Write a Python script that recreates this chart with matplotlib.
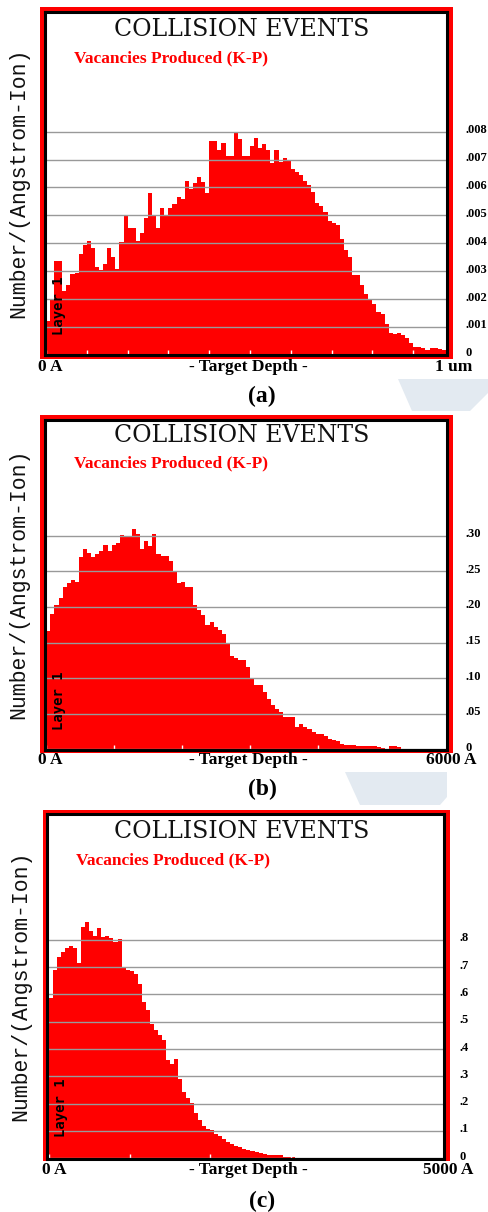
import numpy as np
import matplotlib
matplotlib.use("Agg")
import matplotlib.pyplot as plt
from matplotlib.patches import Rectangle, Polygon
from matplotlib.transforms import ScaledTranslation

W, H = 489, 1212

# vacancies produced per (Angstrom-Ion), 100 depth bins each (SRIM K-P)
VAC_A = np.array([
    1.21, 1.96, 3.37, 3.37, 2.30, 2.50, 2.90, 2.92, 3.60, 3.93,
    4.09, 3.84, 3.15, 3.03, 3.27, 3.84, 3.51, 3.09, 4.03, 4.97,
    4.55, 4.56, 4.09, 4.38, 4.92, 5.82, 5.03, 4.56, 5.28, 4.98,
    5.28, 5.40, 5.66, 5.60, 6.24, 5.93, 6.16, 6.38, 6.20, 5.80,
    7.67, 7.67, 7.34, 7.60, 7.13, 7.13, 7.95, 7.73, 7.13, 7.13,
    7.50, 7.79, 7.43, 7.57, 7.34, 6.89, 7.34, 6.92, 7.06, 6.98,
    6.68, 6.54, 6.44, 6.22, 6.10, 5.84, 5.45, 5.33, 5.13, 4.79,
    4.74, 4.64, 4.17, 3.75, 3.51, 2.88, 2.88, 2.50, 2.20, 1.96,
    1.84, 1.54, 1.48, 1.12, 0.79, 0.76, 0.80, 0.70, 0.59, 0.43,
    0.29, 0.29, 0.23, 0.19, 0.23, 0.23, 0.20, 0.17, 0.15, 0.12,
]) * 1e-3

VAC_B = [
    .166, .190, .202, .213, .228, .234, .238, .235, .270, .281,
    .276, .270, .274, .278, .287, .279, .287, .290, .301, .299,
    .299, .309, .302, .282, .292, .286, .303, .275, .271, .271,
    .264, .251, .234, .235, .228, .228, .203, .196, .189, .175,
    .179, .172, .168, .162, .149, .131, .128, .125, .125, .115,
    .100, .090, .090, .081, .071, .062, .057, .053, .045, .045,
    .045, .032, .035, .032, .028, .025, .021, .021, .018, .014,
    .013, .011, .008, .006, .006, .006, .005, .004, .004, .004,
    .004, .003, .002, .001, .004, .004, .003, .001, 0, 0,
    0, 0, 0, 0, 0, 0, 0, 0, 0, 0,
]

VAC_C = [
    .586, .690, .739, .757, .769, .778, .769, .714, .849, .867,
    .833, .815, .845, .812, .816, .808, .791, .803, .702, .690,
    .686, .674, .637, .571, .543, .491, .470, .452, .435, .360,
    .344, .364, .290, .244, .222, .201, .165, .140, .120, .108,
    .102, .090, .080, .070, .060, .052, .045, .040, .034, .030,
    .027, .022, .021, .015, .013, .013, .013, .013, .005, .004,
    .003, .002, .002, 0, 0, 0, 0, 0, 0, 0,
    0, 0, 0, 0, 0, 0, 0, 0, 0, 0,
    0, 0, 0, 0, 0, 0, 0, 0, 0, 0,
    0, 0, 0, 0, 0, 0, 0, 0, 0, 0,
]

DEPTHS = [10000, 6000, 5000]          # target depth, Angstrom
END_LABELS = ["1 um", "6000 A", "5000 A"]
CAPTIONS = ["(a)", "(b)", "(c)"]

YTICKS_A = [0, .001, .002, .003, .004, .005, .006, .007, .008]
YLABELS_A = ["0", ".001", ".002", ".003", ".004", ".005", ".006", ".007", ".008"]
YTICKS_B = [0, .05, .10, .15, .20, .25, .30]
YLABELS_B = ["0", ".05", ".10", ".15", ".20", ".25", ".30"]
YTICKS_C = [0, .1, .2, .3, .4, .5, .6, .7, .8]
YLABELS_C = ["0", ".1", ".2", ".3", ".4", ".5", ".6", ".7", ".8"]

RED = "#ff0000"
SERIF = "Liberation Serif"

# pixel layout of each SRIM window: frame, plot box, data origin and scales
LAYOUT = [
    dict(frame=(40, 7, 453, 359), box=(45, 12, 447, 355.5), x0=46, xs=408,
         y0=354.9, ys=27.9 / 0.001, title=30, sub=(74, 58), ylab=(19, 183),
         layer=(59, 335), xlab=367, left=38, right=472, cap=396, pad=13),
    dict(frame=(40, 415, 453, 753), box=(45, 420, 447, 750), x0=46.3, xs=408,
         y0=749.3, ys=35.6 / 0.05, title=435, sub=(74, 463), ylab=(19, 584),
         layer=(59, 730), xlab=760, left=38, right=477, cap=789, pad=13),
    dict(frame=(43, 810, 450, 1161), box=(47.5, 814, 444, 1158.5), x0=49, xs=403,
         y0=1158.3, ys=27.3 / 0.1, title=832, sub=(76, 860), ylab=(21, 986),
         layer=(61, 1137), xlab=1170, left=42, right=473, cap=1201, pad=11.5),
]


def fx(x):
    return x / W


def fy(y):
    return 1 - y / H


def draw_panel(fig, vals, depth, yticks, ylabels, end_label, caption, L):
    l, t, r, b = L["frame"]
    fig.add_artist(Rectangle((fx(l), fy(b)), (r - l) / W, (b - t) / H,
                             transform=fig.transFigure, facecolor=RED,
                             edgecolor="none", zorder=-1))
    l, t, r, b = L["box"]
    ax = fig.add_axes([fx(l), fy(b), (r - l) / W, (b - t) / H])
    ax.set_facecolor("white")
    ax.set_xlim((l - L["x0"]) / L["xs"] * depth, (r - L["x0"]) / L["xs"] * depth)
    ax.set_ylim((L["y0"] - b) / L["ys"], (L["y0"] - t) / L["ys"])

    edges = np.linspace(0, depth, len(vals) + 1)
    ax.stairs(vals, edges, fill=True, color=RED, linewidth=0)

    ax.set_xticks(np.arange(0, depth, 1000))
    ax.tick_params(axis="x", direction="in", color="white", length=3.5,
                   width=1, labelbottom=False)
    ax.yaxis.tick_right()
    ax.set_yticks(yticks)
    ax.set_yticklabels(ylabels, family=SERIF, weight="bold", fontsize=9)
    ax.tick_params(axis="y", length=0, pad=L["pad"])
    # SRIM prints the scale numbers a little above their grid lines
    lift = ScaledTranslation(0, 3 / 100, fig.dpi_scale_trans)
    for lab in ax.get_yticklabels():
        lab.set_transform(lab.get_transform() + lift)
    ax.grid(axis="y", color="#999999", linewidth=1.0)
    for s in ax.spines.values():
        s.set_color("black")
        s.set_linewidth(2.2)

    fig.text(fx(242), fy(L["title"]), "COLLISION EVENTS", ha="center",
             va="center", family="DejaVu Serif", fontsize=17, color="#111111")
    fig.text(fx(L["sub"][0]), fy(L["sub"][1]), "Vacancies Produced (K-P)",
             ha="left", va="center", family=SERIF, weight="bold",
             fontsize=12.5, color=RED)
    fig.text(fx(L["ylab"][0]), fy(L["ylab"][1]), "Number/(Angstrom-Ion)",
             rotation=90, ha="center", va="center", family="Liberation Mono",
             fontsize=15.5, color="#111111")
    fig.text(fx(L["layer"][0]), fy(L["layer"][1]), "Layer 1", rotation=90,
             ha="center", va="bottom", family="DejaVu Sans Mono",
             weight="bold", fontsize=10)
    fig.text(fx(L["left"]), fy(L["xlab"]), "0 A", ha="left", va="center",
             family=SERIF, weight="bold", fontsize=12.5)
    fig.text(fx(248), fy(L["xlab"]), "- Target Depth -", ha="center",
             va="center", family=SERIF, weight="bold", fontsize=12.5)
    fig.text(fx(L["right"]), fy(L["xlab"]), end_label, ha="right",
             va="center", family=SERIF, weight="bold", fontsize=12.5)
    fig.text(fx(262), fy(L["cap"]), caption, ha="center", va="center",
             family=SERIF, weight="bold", fontsize=17)
    return ax


fig = plt.figure(figsize=(W / 100, H / 100), dpi=100)

# faint watermark left over from the source page
for pts in ([(398, 379), (489, 379), (489, 392), (470, 411), (412, 411)],
            [(345, 772), (447, 772), (447, 797), (440, 805), (360, 805)]):
    fig.add_artist(Polygon([(fx(x), fy(y)) for x, y in pts], closed=True,
                           transform=fig.transFigure, facecolor="#e3eaf1",
                           edgecolor="none", zorder=-2))

panels = [
    (VAC_A, YTICKS_A, YLABELS_A),
    (VAC_B, YTICKS_B, YLABELS_B),
    (VAC_C, YTICKS_C, YLABELS_C),
]
for (vals, yt, yl), depth, end, cap, L in zip(panels, DEPTHS, END_LABELS,
                                              CAPTIONS, LAYOUT):
    draw_panel(fig, vals, depth, yt, yl, end, cap, L)

fig.savefig("out.png", dpi=100)
